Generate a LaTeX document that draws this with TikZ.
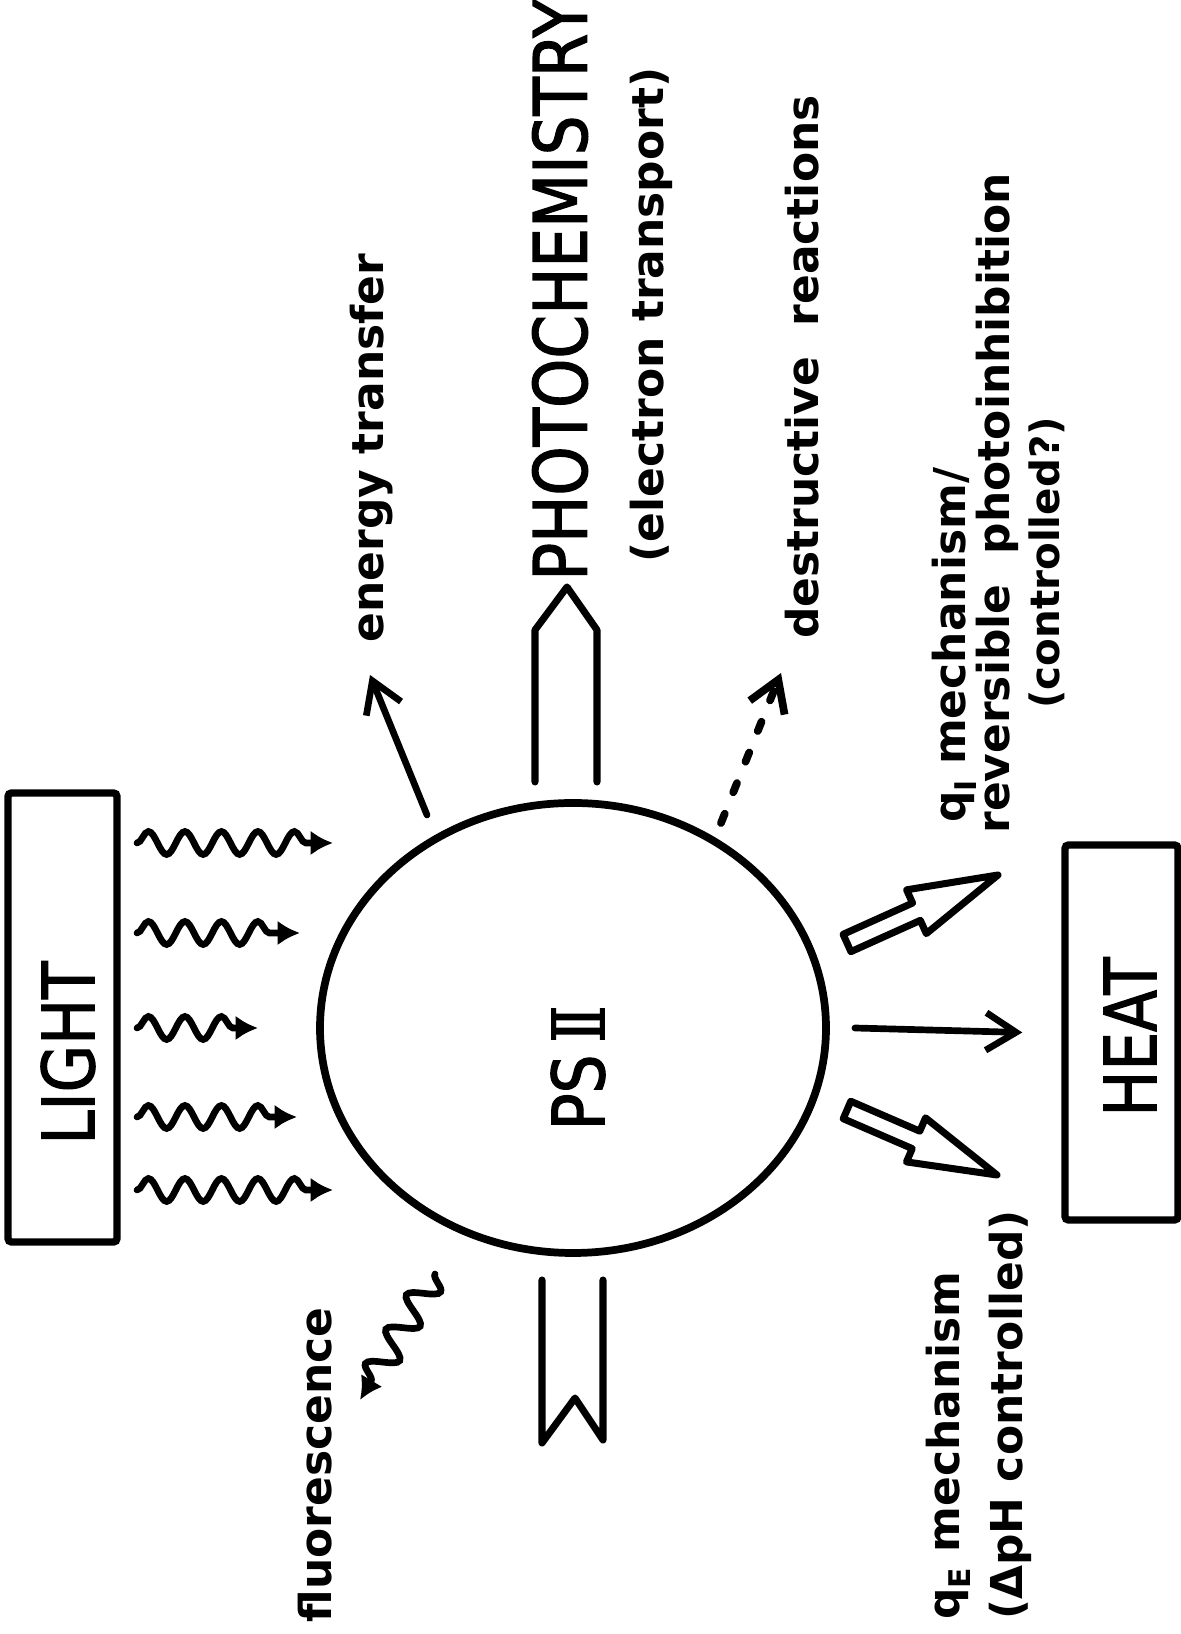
\documentclass[tikz,border=0pt]{standalone}
\usepackage{fontspec}
\setmainfont{DejaVu Sans}
\newfontfamily\capsfont{DejaVu Sans}[FakeStretch=0.85, FakeBold=1.6]
\newfontfamily\romfont{DejaVu Serif}[FakeStretch=0.8, FakeBold=1.6]
\usetikzlibrary{shapes.geometric,arrows.meta,decorations.pathmorphing,calc}

\newcommand{\qsub}[2]{#1\raisebox{-0.45ex}{\fontsize{17}{17}\selectfont #2}}
\newcommand{\romtwo}{{\romfont I\kern-0.12em I}}

% open block arrow from tail #1 to tip #2
\newcommand{\fatarrow}[2]{%
  \coordinate (#1-m) at ($(#1)!0.46!(#2)$);
  \draw[hollow] ($(#1)!0.19cm!90:(#2)$) -- ($(#1-m)!0.19cm!90:(#2)$)
    -- ($(#1-m)!0.48cm!90:(#2)$) -- (#2)
    -- ($(#1-m)!0.48cm!-90:(#2)$) -- ($(#1-m)!0.19cm!-90:(#2)$)
    -- ($(#1)!0.19cm!-90:(#2)$) -- cycle;
}

\begin{document}
\begin{tikzpicture}[
    every node/.style={inner sep=0pt},
    box/.style={rectangle, draw, line width=4.2pt, rounded corners=2pt},
    bigtxt/.style={font=\capsfont\fontsize{41}{41}\selectfont, rotate=90},
    lbl/.style={font=\bfseries\fontsize{25}{30}\selectfont, rotate=90},
    ray/.style={line width=3.8pt, line cap=round, decorate,
        decoration={snake, amplitude=2.3mm, segment length=7.3mm, post length=3mm},
        -{Latex[length=4.5mm, width=5mm]}},
    arrow/.style={line width=3.8pt, line cap=round, -{Straight Barb[length=6mm, width=7.5mm]}},
    hollow/.style={line width=4pt, line join=round, line cap=round}
]
  \useasboundingbox (0,0) rectangle (23.62,32.68);

  % light source
  \node[box, minimum width=2.18cm, minimum height=8.98cm] (light) at (1.25,12.33) {};
  \node[bigtxt] (lighttxt) at (1.36,11.62) {LIGHT};
  \foreach \y/\xe [count=\i] in {15.82/6.66, 14.02/6.00, 12.12/5.16, 10.34/5.94, 8.88/6.66} {
    \coordinate (ray\i) at (2.74,\y);
    \coordinate (hit\i) at (\xe,\y);
    \draw[ray] (ray\i) -- (hit\i);
  }

  % photosystem
  \node[ellipse, draw, line width=4.4pt, minimum width=10.12cm, minimum height=9cm] (psii) at (11.46,12.12) {};
  \node[bigtxt] (psiitxt) at (11.56,11.32) {PS\,\romtwo};

  % heat sink
  \node[box, minimum width=2.26cm, minimum height=7.5cm] (heat) at (22.43,12.03) {};
  \node[bigtxt] (heattxt) at (22.60,11.94) {HEAT};
  \draw[arrow] ([xshift=5mm]psii.east) -- ([xshift=-7.8mm]heat.west);

  % photochemistry block arrow, in and out
  \draw[hollow] (10.70,17.04) -- (10.70,20.08) -- (11.34,20.94) -- (11.94,20.08) -- (11.94,17.04);
  \draw[hollow] (10.84,7.08) -- (10.84,3.82) -- (11.50,4.72) -- (12.06,3.88) -- (12.06,7.08);
  \node[bigtxt, font=\capsfont\fontsize{42}{42}\selectfont] (photo) at (11.20,26.88) {PHOTOCHEMISTRY};
  \node[lbl] (etrans) at (13.02,26.38) {(electron transport)};

  % energy transfer and damage
  \coordinate (et0) at (8.54,16.38);
  \coordinate (et1) at (7.40,19.18);
  \draw[arrow] (et0) -- (et1);
  \node[lbl] (energy) at (7.44,23.72) {energy transfer};
  \coordinate (dr0) at (14.42,16.22);
  \coordinate (dr1) at (15.62,19.22);
  \draw[arrow, line width=4.4pt, dash pattern=on 2mm off 4.6mm] (dr0) -- (dr1);
  \node[lbl] (destr) at (16.04,25.34) {destructive~~reactions};

  % fluorescence
  \coordinate (fl0) at (8.70,7.20);
  \coordinate (fl1) at (7.20,4.68);
  \draw[ray, decoration={amplitude=2.8mm, segment length=8mm}] (fl0) -- (fl1);
  \node[lbl] (fluor) at (6.30,3.38) {fluorescence};

  % quenching
  \coordinate (qi) at (16.94,13.82);
  \coordinate (qitip) at (19.96,15.18);
  \fatarrow{qi}{qitip}
  \coordinate (qe) at (16.94,10.48);
  \coordinate (qetip) at (19.94,9.18);
  \fatarrow{qe}{qetip}

  \node[lbl, anchor=west] (qilbl) at (19.08,16.22) {\qsub{q}{Ⅰ}~mechanism/};
  \node[lbl, anchor=west] (revlbl) at (19.94,16.00) {reversible~~photoinhibition};
  \node[lbl, font=\bfseries\fontsize{23}{28}\selectfont] (ctrl) at (20.94,21.42) {(controlled?)};
  \node[lbl, anchor=west] (qelbl) at (18.96,0.28) {\qsub{q}{E}~mechanism};
  \node[lbl, anchor=west] (dphlbl) at (20.20,0.28) {(ΔpH controlled)};
\end{tikzpicture}
\end{document}
